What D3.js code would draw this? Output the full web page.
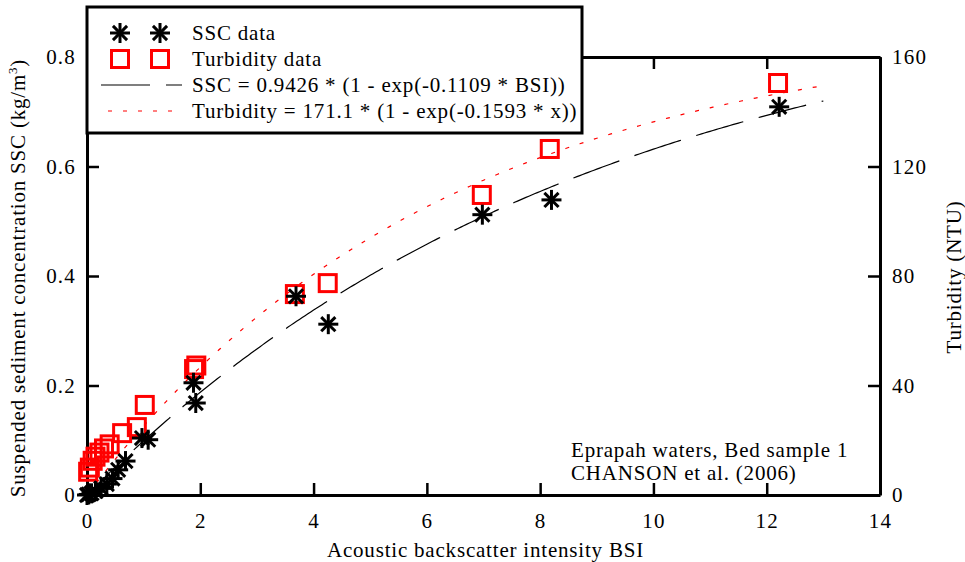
<!DOCTYPE html>
<html>
<head>
<meta charset="utf-8">
<script src="https://cdn.jsdelivr.net/npm/d3@7"></script>
<style>
  html, body { margin: 0; padding: 0; background: #fff; }
  svg { display: block; }
  text { font-family: "Liberation Serif", "Times New Roman", serif; fill: #000; }
</style>
</head>
<body>
<svg id="chart" width="965" height="562"></svg>
<script>
// Suspended sediment concentration (kg/m3) against backscatter intensity
const sscBSI = [12.22, 8.20, 6.98, 4.26, 3.69, 1.92, 1.88, 1.08, 0.97, 0.68, 0.55, 0.45, 0.35, 0.25, 0.15, 0.08, 0.03, 0.00];
const sscVal = [0.709, 0.539, 0.512, 0.312, 0.363, 0.168, 0.205, 0.101, 0.104, 0.062, 0.046, 0.030, 0.020, 0.012, 0.007, 0.003, 0.001, 0.000];

// Turbidity (NTU) against backscatter intensity
const turbBSI = [12.20, 8.17, 6.97, 4.25, 3.67, 1.89, 1.93, 1.02, 0.88, 0.62, 0.40, 0.30, 0.22, 0.15, 0.10, 0.05, 0.02];
const turbVal = [150.5, 126.4, 109.6, 77.4, 73.4, 46.0, 47.3, 32.9, 24.8, 22.6, 18.5, 17.0, 15.5, 14.0, 12.5, 10.0, 8.5];

// Fitted curves: y = a * (1 - exp(-b * BSI))
const sscFit = { a: 0.9426, b: 0.1109 };
const turbFit = { a: 171.1, b: 0.1593 };
const fitMaxBSI = 13;

const xTicks = [0, 2, 4, 6, 8, 10, 12, 14];
const yLeftTicks = [0, 0.2, 0.4, 0.6, 0.8];
const yRightTicks = [0, 40, 80, 120, 160];

const legendLabels = [
  "SSC data",
  "Turbidity data",
  "SSC = 0.9426 * (1 - exp(-0.1109 * BSI))",
  "Turbidity = 171.1 * (1 - exp(-0.1593 * x))"
];

const svg = d3.select("#chart");
const plotL = 87, plotR = 880, plotT = 57, plotB = 495;

const x = d3.scaleLinear().domain([0, 14]).range([plotL, plotR]);
const yL = d3.scaleLinear().domain([0, 0.8]).range([plotB, plotT]);
const yR = d3.scaleLinear().domain([0, 160]).range([plotB, plotT]);

const fontSize = 21;
const spacing = 0.8;

function styleAxis(g) {
  g.attr("font-family", null);
  g.select(".domain").attr("stroke-width", 3).attr("stroke", "#000");
  g.selectAll(".tick line").attr("stroke-width", 2.5).attr("stroke", "#000");
  g.selectAll(".tick text")
    .attr("font-size", fontSize)
    .attr("letter-spacing", 1.2)
    .attr("fill", "#000");
}

// Frame with inward ticks on all four sides
svg.append("g").attr("transform", `translate(0,${plotB})`)
  .call(d3.axisBottom(x).tickValues(xTicks).tickFormat(d3.format("d"))
    .tickSizeInner(-12).tickSizeOuter(0).tickPadding(18))
  .call(styleAxis);

svg.append("g").attr("transform", `translate(0,${plotT})`)
  .call(d3.axisTop(x).tickValues(xTicks).tickFormat("")
    .tickSizeInner(-12).tickSizeOuter(0))
  .call(styleAxis);

svg.append("g").attr("transform", `translate(${plotL},0)`)
  .call(d3.axisLeft(yL).tickValues(yLeftTicks).tickFormat(d3.format("~g"))
    .tickSizeInner(-12).tickSizeOuter(0).tickPadding(11))
  .call(styleAxis);

svg.append("g").attr("transform", `translate(${plotR},0)`)
  .call(d3.axisRight(yR).tickValues(yRightTicks).tickFormat(d3.format("d"))
    .tickSizeInner(-12).tickSizeOuter(0).tickPadding(12))
  .call(styleAxis);

// Fitted curves
const curveXs = d3.range(0, fitMaxBSI + 1e-9, 0.05);
const sscLine = d3.line().x(d => x(d)).y(d => yL(sscFit.a * (1 - Math.exp(-sscFit.b * d))));
const turbLine = d3.line().x(d => x(d)).y(d => yR(turbFit.a * (1 - Math.exp(-turbFit.b * d))));

svg.append("path").datum(curveXs)
  .attr("d", sscLine).attr("fill", "none")
  .attr("stroke", "#000").attr("stroke-width", 1.2)
  .attr("stroke-dasharray", "49 16");

svg.append("path").datum(curveXs)
  .attr("d", turbLine).attr("fill", "none")
  .attr("stroke", "#ff0000").attr("stroke-width", 1.2)
  .attr("stroke-dasharray", "4 11");

// Marker shapes
const sq = 17;
function drawSquare(g, cx, cy) {
  g.append("rect")
    .attr("x", cx - sq / 2).attr("y", cy - sq / 2)
    .attr("width", sq).attr("height", sq)
    .attr("fill", "none").attr("stroke", "#ff0000").attr("stroke-width", 3);
}
const ar = 10;
function drawAsterisk(g, cx, cy) {
  const angles = [0, 45, 90, 135];
  angles.forEach(a => {
    const r = a * Math.PI / 180;
    g.append("line")
      .attr("x1", cx - ar * Math.cos(r)).attr("y1", cy - ar * Math.sin(r))
      .attr("x2", cx + ar * Math.cos(r)).attr("y2", cy + ar * Math.sin(r))
      .attr("stroke", "#000").attr("stroke-width", 3);
  });
}

const marks = svg.append("g");
turbBSI.forEach((b, i) => drawSquare(marks, x(b), yR(turbVal[i])));
sscBSI.forEach((b, i) => drawAsterisk(marks, x(b), yL(sscVal[i])));

// Axis titles
svg.append("text")
  .attr("x", (plotL + plotR) / 2 + 2).attr("y", 557)
  .attr("text-anchor", "middle").attr("font-size", fontSize)
  .attr("letter-spacing", spacing)
  .text("Acoustic backscatter intensity BSI");

const yTitle = svg.append("text")
  .attr("transform", `translate(25,278) rotate(-90)`)
  .attr("text-anchor", "middle").attr("font-size", fontSize)
  .attr("letter-spacing", spacing);
yTitle.append("tspan").text("Suspended sediment concentration SSC (kg/m");
yTitle.append("tspan").attr("font-size", 13).attr("dy", -8).text("3");
yTitle.append("tspan").attr("dy", 8).text(")");

svg.append("text")
  .attr("transform", `translate(961,277) rotate(-90)`)
  .attr("text-anchor", "middle").attr("font-size", fontSize)
  .attr("letter-spacing", spacing)
  .text("Turbidity (NTU)");

// Site annotation
svg.append("text").attr("x", 571).attr("y", 457).attr("font-size", fontSize)
  .attr("letter-spacing", spacing)
  .text("Eprapah waters, Bed sample 1");
svg.append("text").attr("x", 571).attr("y", 480).attr("font-size", fontSize)
  .attr("letter-spacing", spacing)
  .text("CHANSON et al. (2006)");

// Legend
const legend = svg.append("g");
legend.append("rect")
  .attr("x", 87).attr("y", 7).attr("width", 495).attr("height", 126)
  .attr("fill", "#fff").attr("stroke", "#000").attr("stroke-width", 3);

const rowY = [33, 59, 85, 111];
const textX = 192;
drawAsterisk(legend, 120, rowY[0]);
drawAsterisk(legend, 160, rowY[0]);
drawSquare(legend, 120, rowY[1]);
drawSquare(legend, 160, rowY[1]);
legend.append("line").attr("x1", 101).attr("x2", 182)
  .attr("y1", rowY[2]).attr("y2", rowY[2])
  .attr("stroke", "#000").attr("stroke-width", 1.2).attr("stroke-dasharray", "49 16");
legend.append("line").attr("x1", 108).attr("x2", 182)
  .attr("y1", rowY[3]).attr("y2", rowY[3])
  .attr("stroke", "#ff0000").attr("stroke-width", 1.2).attr("stroke-dasharray", "4 11");

legendLabels.forEach((t, i) => {
  legend.append("text").attr("x", textX).attr("y", rowY[i] + 7)
    .attr("font-size", fontSize).attr("letter-spacing", spacing).text(t);
});
</script>
</body>
</html>
